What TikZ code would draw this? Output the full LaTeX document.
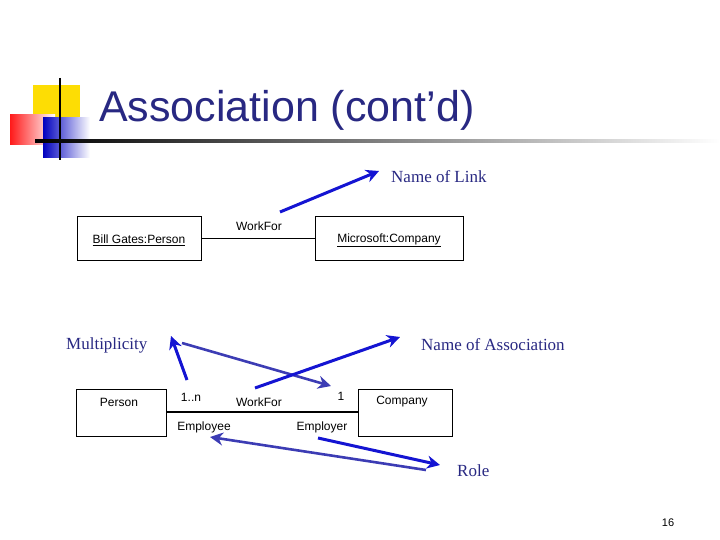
\documentclass[tikz,border=0pt]{standalone}
\usepackage{fontspec}
\setmainfont{Liberation Serif}
\newfontfamily\arialfont{Liberation Sans}
\usetikzlibrary{arrows.meta, positioning}
\definecolor{titleblue}{RGB}{40,40,130}
\definecolor{arrowblue}{RGB}{20,20,210}
\definecolor{paleblue}{RGB}{60,60,180}
\tikzset{uml/.style={draw,thin,inner sep=0pt}}
\tikzset{lbl/.style={font=\arialfont\fontsize{12}{13}\selectfont,inner sep=1pt}}
\tikzset{note/.style={text=titleblue,font=\fontsize{17}{19}\selectfont,anchor=west,inner sep=0pt}}
\tikzset{pointer/.style={arrowblue,line width=3pt,-{Stealth[length=13pt,width=13pt]}}}
\begin{document}
\begin{tikzpicture}[%
		x=1pt, y=-1pt, % pixel grid of the slide
		]
		\useasboundingbox (0,0) rectangle (720,540);
		
		% Logo
		\fill[yellow!80!orange] (33,85) rectangle (80,125);
		\shade[left color=red!90, right color=white] (10,115) rectangle (55,145);
		\shade[left color=blue!75!black, right color=white] (43,118) rectangle (90,158);
		\draw[line width=2pt] (60,78) -- (60,160);
		\shade[left color=black, right color=white] (35,140) rectangle (720,142.5);
		\node[anchor=west,text=titleblue,font=\arialfont\fontsize{43}{46}\selectfont,inner sep=0pt] (title) at (99,110) {Association (cont’d)};
		
		% Object diagram
		\node[uml,minimum width=124pt,minimum height=44pt] (bill) at (139,238) {};
		\node[lbl] at (139,240) {\underline{Bill Gates:Person}};
		\node[uml,minimum width=148pt,minimum height=44pt] (ms) at (389,238) {};
		\node[lbl] at (389,240) {\underline{Microsoft:Company}};
		\draw (bill) -- (ms);
		\node[lbl] (wf1) at (259,226) {WorkFor};
		\node[note] (link) at (391,177) {Name of Link};
		\coordinate (l1) at (280,212);
		\draw[pointer] (l1) -- (379,171) coordinate (l2);
		
		% Class diagram
		\node[uml,minimum width=90pt,minimum height=47pt] (person) at (121,412.5) {};
		\node[lbl] at (119,402) {Person};
		\node[uml,minimum width=94pt,minimum height=47pt] (company) at (405,412.5) {};
		\node[lbl] at (402,402) {Company};
		\draw[line width=1.2pt] (person.east |- 0,412) -- (company.west |- 0,412);
		\node[lbl] (mult) at (191,397) {1..n};
		\node[lbl] (wf2) at (259,402) {WorkFor};
		\node[lbl] (one) at (341,396) {1};
		\node[lbl] (emp) at (204,427) {Employee};
		\node[lbl] (empr) at (322,427) {Employer};
		
		% Labels
		\node[note] (multi) at (66,345) {Multiplicity};
		\node[note] (assoc) at (421,345) {Name of Association};
		\node[note] (role) at (457,471) {Role};
		\node[font=\arialfont\fontsize{11}{12}\selectfont] (page) at (668,523) {16};
		
		% Pointers
		\draw[pointer] (187,380) coordinate (m1) -- (171,336) coordinate (m2);
		\draw[pointer,paleblue,line width=2.6pt] (182,343) coordinate (m3) -- (331,386) coordinate (m4);
		\draw[pointer] (255,388) coordinate (a1) -- (400,337) coordinate (a2);
		\draw[pointer] (318,438) coordinate (r1) -- (440,465) coordinate (r2);
		\draw[pointer,paleblue,line width=2.6pt] (426,470) coordinate (r3) -- (210,437) coordinate (r4);
		\end{tikzpicture}
\end{document}
